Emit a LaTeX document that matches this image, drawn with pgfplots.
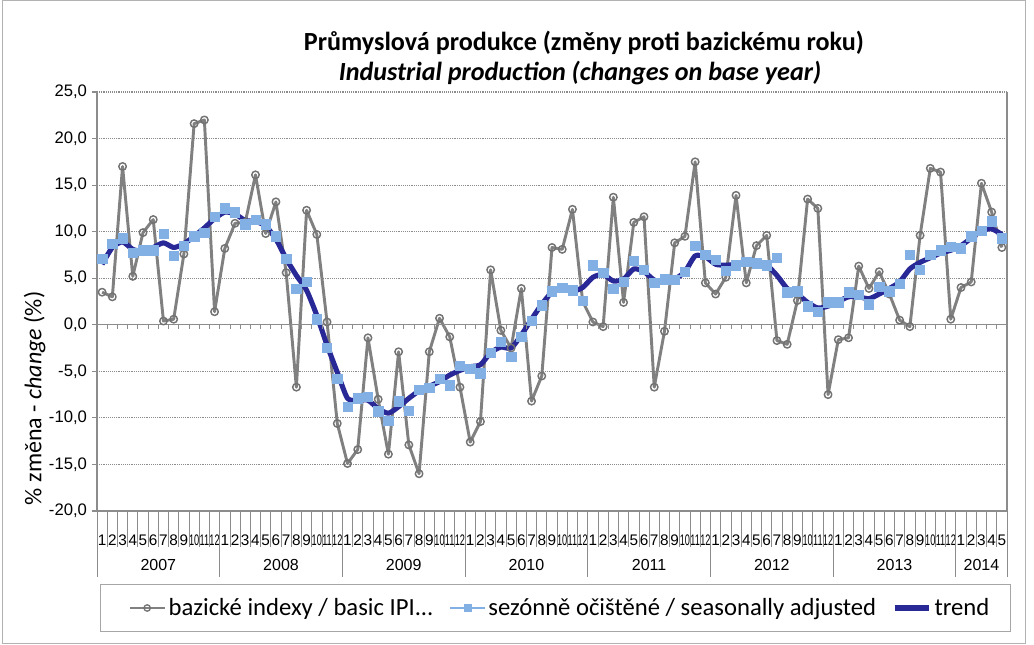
\documentclass[border=0pt]{standalone}
\usepackage{fontspec}
\setmainfont{Carlito}
\newfontfamily\arial{Liberation Sans}
\usepackage{graphicx}
\usepackage{pgfplots}
\usepackage{pgfplotstable}
\pgfplotsset{compat=1.18}
\definecolor{ipigray}{RGB}{128,128,128}
\definecolor{sablue}{RGB}{130,175,228}
\definecolor{trendblue}{RGB}{40,40,150}
\definecolor{gridgray}{RGB}{140,140,140}
\newcommand\sq[1]{\scalebox{0.6}[1]{#1}}

\pgfplotstableread{
i basic sa trend
0 3.5 7.1 6.5
1 3.0 8.7 8.3
2 17.0 9.3 8.9
3 5.2 7.7 8.1
4 9.9 8.0 7.9
5 11.3 8.0 8.3
6 0.4 9.8 8.8
7 0.6 7.4 8.3
8 7.6 8.5 8.7
9 21.6 9.5 9.5
10 22.0 9.9 10.4
11 1.4 11.6 11.4
12 8.2 12.5 12.1
13 10.9 12.1 11.9
14 11.0 10.8 11.2
15 16.1 11.3 11.1
16 9.8 10.8 10.6
17 13.2 9.5 9.2
18 5.6 7.1 7.1
19 -6.7 3.9 5.3
20 12.3 4.6 3.7
21 9.7 0.6 1.0
22 0.3 -2.5 -2.2
23 -10.6 -5.8 -5.1
24 -14.9 -8.8 -7.9
25 -13.4 -7.9 -8.1
26 -1.4 -7.7 -8.1
27 -8.0 -9.3 -9.0
28 -13.9 -10.3 -9.5
29 -2.9 -8.2 -8.8
30 -12.9 -9.2 -7.9
31 -16.0 -7.0 -7.1
32 -2.9 -6.8 -6.6
33 0.7 -5.8 -6.1
34 -1.3 -6.5 -5.4
35 -6.7 -4.4 -4.9
36 -12.6 -4.7 -4.5
37 -10.4 -5.2 -4.3
38 5.9 -3.0 -3.0
39 -0.6 -1.8 -2.4
40 -2.5 -3.4 -2.5
41 3.9 -1.3 -1.1
42 -8.2 0.4 0.6
43 -5.5 2.1 2.2
44 8.3 3.6 3.5
45 8.1 4.0 3.9
46 12.4 3.7 3.6
47 2.5 2.6 4.0
48 0.3 6.4 5.1
49 -0.2 5.6 5.4
50 13.7 3.9 4.7
51 2.4 4.6 4.9
52 11.0 6.9 6.0
53 11.6 5.9 5.7
54 -6.7 4.5 4.8
55 -0.7 4.9 4.6
56 8.8 4.8 4.9
57 9.5 5.7 5.7
58 17.5 8.5 7.4
59 4.5 7.5 7.3
60 3.3 7.0 6.5
61 5.1 5.8 6.4
62 13.9 6.4 6.5
63 4.5 6.8 6.6
64 8.5 6.6 6.6
65 9.6 6.4 6.4
66 -1.7 7.2 5.3
67 -2.1 3.5 3.9
68 2.6 3.6 3.3
69 13.5 2.0 2.4
70 12.5 1.4 1.8
71 -7.5 2.4 2.0
72 -1.6 2.4 2.5
73 -1.4 3.5 3.0
74 6.3 3.2 3.0
75 3.9 2.2 2.8
76 5.7 4.1 3.3
77 3.3 3.6 3.9
78 0.5 4.4 4.6
79 -0.2 7.5 6.0
80 9.6 5.9 6.7
81 16.8 7.5 7.2
82 16.4 8.0 7.7
83 0.6 8.4 8.0
84 4.0 8.2 8.5
85 4.6 9.5 9.3
86 15.2 10.1 10.1
87 12.1 11.1 10.3
88 8.3 9.3 9.7
}\datatable

\begin{document}
\begin{tikzpicture}
\useasboundingbox (0,0) rectangle (775.5pt,483.75pt);
\draw[gray!60, line width=0.75pt] (1.5pt,0.75pt) rectangle (769pt,483pt);
\node[font=\bfseries\fontsize{19.6}{22}\selectfont] at (438pt,451.5pt) {Průmyslová produkce (změny proti bazickému roku)};
\node[font=\bfseries\itshape\fontsize{19.6}{22}\selectfont] at (435pt,429pt) {Industrial production (changes on base year)};
\node[rotate=90, font=\fontsize{18}{20}\selectfont] at (26pt,185pt) {\% změna - \textit{change} (\%)};
\draw[gray!70, line width=0.75pt] (75pt,9.75pt) rectangle (757.5pt,45pt);
\begin{axis}[
  at={(72.75pt,100.5pt)}, anchor=south west,
  scale only axis, width=682.5pt, height=314.25pt,
  xmin=-0.5, xmax=88.5, ymin=-20, ymax=25,
  clip=false,
  axis x line*=bottom, axis y line*=left,
  axis line style={gridgray, line width=0.8pt},
  ytick={-20,-15,...,25},
  ytick style={gridgray, line width=0.8pt},
  tick align=outside, major tick length=4pt,
  yticklabel style={font=\arial\fontsize{12.5}{14}\selectfont,
    /pgf/number format/fixed, /pgf/number format/fixed zerofill,
    /pgf/number format/precision=1, /pgf/number format/use comma,
    /pgf/number format/assume math mode=true},
  ymajorgrids, major grid style={densely dotted, gridgray, line width=0.9pt},
  xtick={0,...,88},
  xtick style={draw=none},
  xticklabels={1,2,3,4,5,6,7,8,9,\sq{10},\sq{11},\sq{12},1,2,3,4,5,6,7,8,9,\sq{10},\sq{11},\sq{12},1,2,3,4,5,6,7,8,9,\sq{10},\sq{11},\sq{12},1,2,3,4,5,6,7,8,9,\sq{10},\sq{11},\sq{12},1,2,3,4,5,6,7,8,9,\sq{10},\sq{11},\sq{12},1,2,3,4,5,6,7,8,9,\sq{10},\sq{11},\sq{12},1,2,3,4,5,6,7,8,9,\sq{10},\sq{11},\sq{12},1,2,3,4,5},
  xticklabel style={font=\arial\fontsize{11.5}{13}\selectfont, anchor=center, yshift=-18pt, inner sep=0pt},
  legend columns=3,
  legend style={at={(axis description cs:0.509,-0.2315)}, anchor=center, draw=none, fill=none,
    font=\fontsize{18.5}{21}\selectfont, /tikz/every even column/.append style={column sep=10pt}},
  legend cell align=left,
]
\addplot[ipigray, line width=2.2pt, line join=round, mark=o, mark size=2.8pt, mark options={line width=1.1pt, draw=ipigray!90!black},
  legend image code/.code={\draw[ipigray, line width=2.2pt] (0pt,0pt) -- (26pt,0pt);
    \draw[ipigray!90!black, line width=1pt] (13pt,0pt) circle (2.4pt);}]
  table[x=i, y=basic] {\datatable};
\addlegendentry{bazické indexy / basic IPI...}
\addplot[only marks, mark=square*, mark size=3.5pt, sablue,
  legend image code/.code={\draw[sablue, line width=1.2pt] (0pt,0pt) -- (26pt,0pt);
    \fill[sablue] (13pt,0pt) +(-2.6pt,-2.6pt) rectangle +(2.6pt,2.6pt);}]
  table[x=i, y=sa] {\datatable};
\addlegendentry{sezónně očištěné / seasonally adjusted}
\addplot[trendblue, line width=3.8pt, line join=round, smooth, tension=0.4, mark=none,
  legend image code/.code={\draw[trendblue, line width=3.8pt] (0pt,0pt) -- (26pt,0pt);}]
  table[x=i, y=trend] {\datatable};
\addlegendentry{trend}
% zero axis with ticks
\draw[gridgray, line width=0.8pt] (axis cs:-0.5,0) -- (axis cs:88.5,0);
\pgfplotsinvokeforeach{0,...,88}{\draw[gridgray, line width=0.6pt] (axis cs:#1+0.5,0) -- ([yshift=-3pt]axis cs:#1+0.5,0);}
% category separators
\pgfplotsinvokeforeach{0,...,89}{\draw[gridgray, line width=0.6pt] (axis cs:#1-0.5,-20) -- ([yshift=-27pt]axis cs:#1-0.5,-20);}
\pgfplotsinvokeforeach{0,12,24,36,48,60,72,84,89}{\draw[gridgray, line width=0.6pt] (axis cs:#1-0.5,-20) -- ([yshift=-49.5pt]axis cs:#1-0.5,-20);}
\draw[gridgray, line width=0.8pt] (axis cs:88.5,25) -- (axis cs:88.5,-20);
% year labels
\node[font=\arial\fontsize{12}{14}\selectfont] at ([yshift=-40.5pt]axis cs:5.5,-20) {2007};
\node[font=\arial\fontsize{12}{14}\selectfont] at ([yshift=-40.5pt]axis cs:17.5,-20) {2008};
\node[font=\arial\fontsize{12}{14}\selectfont] at ([yshift=-40.5pt]axis cs:29.5,-20) {2009};
\node[font=\arial\fontsize{12}{14}\selectfont] at ([yshift=-40.5pt]axis cs:41.5,-20) {2010};
\node[font=\arial\fontsize{12}{14}\selectfont] at ([yshift=-40.5pt]axis cs:53.5,-20) {2011};
\node[font=\arial\fontsize{12}{14}\selectfont] at ([yshift=-40.5pt]axis cs:65.5,-20) {2012};
\node[font=\arial\fontsize{12}{14}\selectfont] at ([yshift=-40.5pt]axis cs:77.5,-20) {2013};
\node[font=\arial\fontsize{12}{14}\selectfont] at ([yshift=-40.5pt]axis cs:86,-20) {2014};
\end{axis}
\end{tikzpicture}
\end{document}
